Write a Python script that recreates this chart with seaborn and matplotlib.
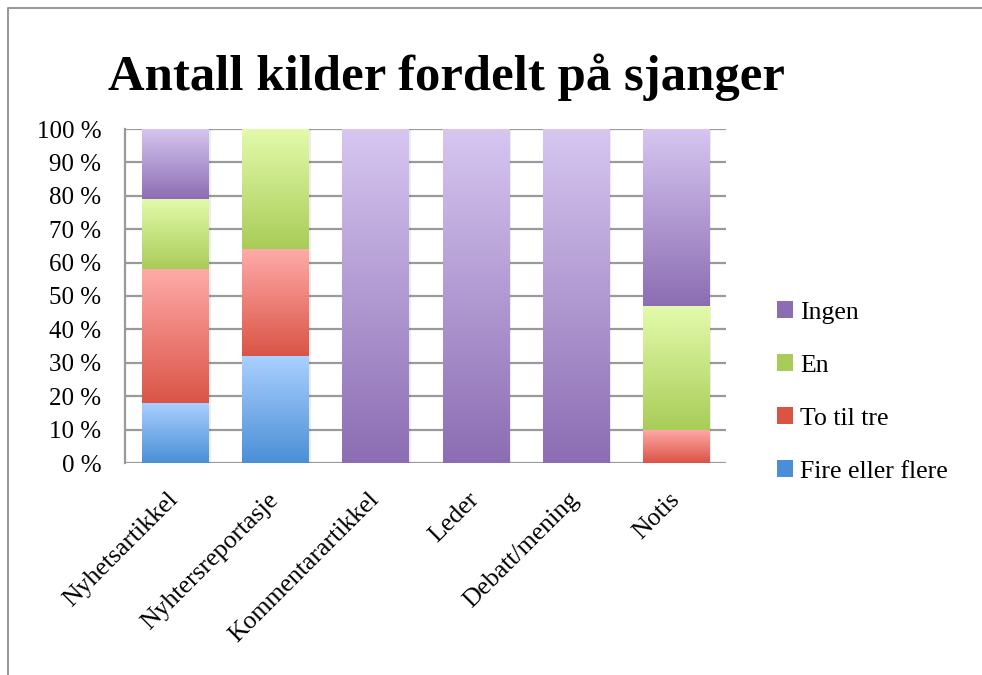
import numpy as np
import pandas as pd
import matplotlib
matplotlib.use("Agg")
import matplotlib.pyplot as plt
import matplotlib.transforms as mtrans
import seaborn as sns
from matplotlib.colors import LinearSegmentedColormap
from matplotlib.patches import Patch
from matplotlib.lines import Line2D

# data (percent of articles per genre)
sjangre = ["Nyhetsartikkel", "Nyhtersreportasje", "Kommentarartikkel", "Leder", "Debatt/mening", "Notis"]
fire_eller_flere = [18, 32, 0, 0, 0, 0]
to_til_tre = [40, 32, 0, 0, 0, 10]
en = [21, 36, 0, 0, 0, 37]
ingen = [21, 0, 100, 100, 100, 53]

serier = ["Fire eller flere", "To til tre", "En", "Ingen"]
verdier = [fire_eller_flere, to_til_tre, en, ingen]
# (top colour, bottom colour) of each gradient
farger = {
    "Fire eller flere": ("#AAD0FF", "#4A8FD6"),
    "To til tre": ("#FFABA8", "#DA5446"),
    "En": ("#E3FBAB", "#A9CC58"),
    "Ingen": ("#D6C6F0", "#8C6DB3"),
}

df = pd.DataFrame({"sjanger": sjangre})
bunn = np.zeros(len(sjangre))
for s, v in zip(serier, verdier):
    df[s + "_bunn"] = bunn
    bunn = bunn + np.array(v)
    df[s + "_topp"] = bunn

plt.rcParams["font.family"] = ["Liberation Serif", "DejaVu Serif"]
fig = plt.figure(figsize=(9.82, 6.75), dpi=100)
ax = fig.add_axes([125 / 982, 1 - 463 / 675, 601 / 982, 334 / 675])

bredde = 0.66
# stacked bars, tallest cumulative first
for s in reversed(serier):
    sns.barplot(data=df, x="sjanger", y=s + "_topp", color=farger[s][1],
                width=bredde, ax=ax, zorder=2, saturation=1)

# gradient fill for each segment
for p in ax.patches:
    p.set_alpha(0)
grad = np.linspace(0, 1, 256).reshape(-1, 1)
for s in serier:
    cmap = LinearSegmentedColormap.from_list(s, [farger[s][1], farger[s][0]])
    for i in range(len(sjangre)):
        b = df.loc[i, s + "_bunn"]
        t = df.loc[i, s + "_topp"]
        if t - b <= 0:
            continue
        # soft shadow
        ax.add_patch(plt.Rectangle((i - bredde / 2 + 0.025, b), bredde, t - b,
                                   color="#000000", alpha=0.07, zorder=2.5, lw=0))
        ax.imshow(grad, cmap=cmap, origin="lower", aspect="auto",
                  extent=(i - bredde / 2, i + bredde / 2, b, t), zorder=3)

ax.set_xlim(-0.5, len(sjangre) - 0.5)
ax.set_ylim(0, 100)
ax.set_yticks(range(0, 101, 10))
ax.set_yticklabels([f"{v} %" for v in range(0, 101, 10)], fontsize=18)
ax.set_xticks(range(len(sjangre)))
ax.set_xticklabels(sjangre, rotation=45, ha="right", va="center",
                   rotation_mode="anchor", fontsize=18.5)
offset = mtrans.ScaledTranslation(3 / 100, 0, fig.dpi_scale_trans)
for lab in ax.get_xticklabels():
    lab.set_transform(lab.get_transform() + offset)
ax.set_xlabel("")
ax.set_ylabel("")
ax.yaxis.grid(True, color="#9a9a9a", lw=1.6, zorder=1)
ax.set_axisbelow(True)
for side in ["top", "right", "bottom"]:
    ax.spines[side].set_visible(False)
ax.spines["left"].set_color("#9a9a9a")
ax.spines["left"].set_linewidth(1.6)
ax.tick_params(axis="y", length=0, pad=17)
ax.tick_params(axis="x", length=0, pad=24)

fig.text(108 / 982, 1 - 90 / 675, "Antall kilder fordelt på sjanger",
         fontsize=36.5, fontweight="bold", va="baseline", ha="left")

handles = [Patch(facecolor=farger[s][1], edgecolor="none") for s in reversed(serier)]
fig.legend(handles, list(reversed(serier)), loc="center left",
           bbox_to_anchor=(754 / 982, 1 - 392 / 675), frameon=False, fontsize=18.5,
           handlelength=0.6, handleheight=0.6, handletextpad=0.3, labelspacing=1.2)

# outer frame
fig.add_artist(Line2D([8 / 982, 8 / 982, 1], [0, 1 - 8 / 675, 1 - 8 / 675],
                      transform=fig.transFigure, color="#9a9a9a", lw=1.5))

fig.savefig("out.png", dpi=100)
